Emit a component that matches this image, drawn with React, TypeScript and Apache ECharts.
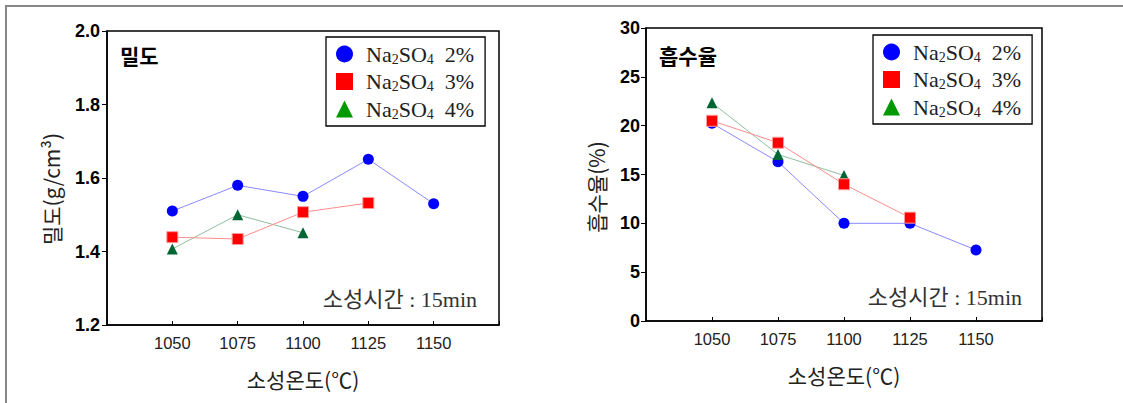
import React, { useEffect, useRef } from "react";
import * as echarts from "echarts";

const temps = [1050, 1075, 1100, 1125, 1150];
const xTicks = [1050, 1075, 1100, 1125, 1150];
const seriesNames = ["Na2SO4 2%", "Na2SO4 3%", "Na2SO4 4%"];
const pctLabels = ["2%", "3%", "4%"];

const density2 = [1.51, 1.58, 1.55, 1.651, 1.53];
const density3 = [1.439, 1.434, 1.507, 1.532];
const density4 = [1.407, 1.5, 1.451];

const absorb2 = [20.24, 16.3, 10.0, 10.0, 7.27];
const absorb3 = [20.5, 18.25, 14.0, 10.58];
const absorb4 = [22.34, 17.05, 14.9];

const SANS = "'Liberation Sans', Arial, 'Noto Sans CJK KR', sans-serif";
const KR = "'Noto Sans CJK KR', 'Liberation Sans', sans-serif";
const SERIF = "'Liberation Serif', 'DejaVu Serif', 'Noto Sans CJK KR', serif";

const symbols = ["circle", "rect", "triangle"];
const markerColors = ["#0000ff", "#ff0000", "#006633"];
const legendColors = ["#0000ff", "#ff0000", "#009900"];
const lineColors = ["#8a8aff", "#ff8c8c", "#8fbf9f"];
const zs = [2, 4, 3];

function pairs(vals: number[]) {
  return vals.map((v, i) => [temps[i], v]);
}

export default function App() {
  const ref = useRef<HTMLDivElement>(null);
  useEffect(() => {
    if (!ref.current) return;
    const chart = echarts.init(ref.current, undefined, { renderer: "svg" });

    const grids = [
      { left: 107, top: 31, width: 392, height: 294 },
      { left: 646, top: 28, width: 396, height: 293 },
    ];

    const xAxis = grids.map((_, gi) => ({
      type: "value",
      gridIndex: gi,
      min: 1025,
      max: 1175,
      interval: 25,
      axisLine: { show: true, lineStyle: { color: "#000", width: 1.5 } },
      axisTick: { show: true, inside: true, length: 4, lineStyle: { color: "#000" } },
      axisLabel: {
        formatter: (v: number) => (xTicks.includes(v) ? String(v) : ""),
        fontSize: 16.5,
        color: "#222",
        margin: 10,
        fontFamily: SANS,
      },
      splitLine: { show: false },
      name: "소성온도(℃)",
      nameLocation: "middle",
      nameGap: 43,
      nameTextStyle: { fontSize: 21, fontFamily: KR, color: "#222" },
    }));

    const yAxis = [
      {
        type: "value",
        gridIndex: 0,
        min: 1.2,
        max: 2.0,
        interval: 0.2,
        axisLine: { show: true, lineStyle: { color: "#000", width: 1.5 } },
        axisTick: { show: true, inside: false, length: 5, lineStyle: { color: "#000" } },
        axisLabel: {
          formatter: (v: number) => v.toFixed(1),
          fontSize: 18,
          fontWeight: "bold",
          color: "#000",
          margin: 7,
          fontFamily: SANS,
        },
        splitLine: { show: false },
      },
      {
        type: "value",
        gridIndex: 1,
        min: 0,
        max: 30,
        interval: 5,
        axisLine: { show: true, lineStyle: { color: "#000", width: 1.5 } },
        axisTick: { show: true, inside: false, length: 5, lineStyle: { color: "#000" } },
        axisLabel: {
          fontSize: 18,
          fontWeight: "bold",
          color: "#000",
          margin: 6,
          fontFamily: SANS,
        },
        splitLine: { show: false },
      },
    ];

    const dataSets = [
      [density2, density3, density4],
      [absorb2, absorb3, absorb4],
    ];

    const series: any[] = [];
    dataSets.forEach((sets, gi) => {
      sets.forEach((vals, si) => {
        series.push({
          type: "line",
          name: seriesNames[si],
          xAxisIndex: gi,
          yAxisIndex: gi,
          data: pairs(vals),
          symbol: symbols[si],
          symbolSize: 11,
          z: zs[si],
          lineStyle: { color: lineColors[si], width: 1 },
          itemStyle: {
            color: markerColors[si],
            borderColor: si === 1 ? "#ff9a9a" : markerColors[si],
            borderWidth: si === 1 ? 1 : 0,
          },
        });
      });
    });

    const legendBase = (left: number, top: number) => ({
      orient: "vertical",
      left,
      top,
      padding: [6, 11, 5, 10],
      itemGap: 4.5,
      itemWidth: 17,
      itemHeight: 17,
      borderColor: "#000",
      borderWidth: 1.3,
      backgroundColor: "#fff",
      selectedMode: false,
      data: seriesNames.map((n, i) => ({
        name: n,
        icon: symbols[i],
        itemStyle: { color: legendColors[i], borderWidth: 0 },
      })),
      formatter: (name: string) => {
        const i = seriesNames.indexOf(name);
        return `{a|Na}{s|2}{a|SO}{s|4}{a|  ${pctLabels[i]}}`;
      },
      textStyle: {
        padding: [0, 0, 0, 8],
        rich: {
          a: { fontSize: 22, fontFamily: SERIF, color: "#222", lineHeight: 24 },
          s: {
            fontSize: 14,
            fontFamily: SERIF,
            color: "#222",
            lineHeight: 14,
            verticalAlign: "bottom",
          },
        },
      },
    });

    const option: any = {
      animation: false,
      backgroundColor: "#fff",
      grid: grids.map((g) => ({
        ...g,
        show: true,
        borderColor: "#000",
        borderWidth: 1.5,
        backgroundColor: "transparent",
      })),
      xAxis,
      yAxis,
      legend: [legendBase(326, 37), legendBase(873, 35)],
      series,
      graphic: [
        {
          type: "line",
          shape: { x1: 5, y1: 6, x2: 1123, y2: 6 },
          style: { stroke: "#888", lineWidth: 2 },
          silent: true,
        },
        {
          type: "line",
          shape: { x1: 6, y1: 6, x2: 6, y2: 403 },
          style: { stroke: "#888", lineWidth: 2 },
          silent: true,
        },
        {
          type: "text",
          x: 51,
          y: 189,
          rotation: Math.PI / 2,
          style: {
            text: "밀도(g/cm³)",
            font: `21px ${KR}`,
            fill: "#222",
            align: "center",
            verticalAlign: "middle",
          },
        },
        {
          type: "text",
          x: 596,
          y: 187,
          rotation: Math.PI / 2,
          style: {
            text: "흡수율(%)",
            font: `21px ${KR}`,
            fill: "#222",
            align: "center",
            verticalAlign: "middle",
          },
        },
        {
          type: "text",
          left: 120,
          top: 44,
          style: { text: "밀도", font: `bold 21px ${KR}`, fill: "#000" },
        },
        {
          type: "text",
          left: 659,
          top: 44,
          style: { text: "흡수율", font: `bold 21px ${KR}`, fill: "#000" },
        },
        {
          type: "text",
          right: 1123 - 477,
          top: 288,
          style: { text: "소성시간 : 15min", font: `22px ${SERIF}`, fill: "#333" },
        },
        {
          type: "text",
          right: 1123 - 1022,
          top: 286,
          style: { text: "소성시간 : 15min", font: `22px ${SERIF}`, fill: "#333" },
        },
      ],
    };

    chart.setOption(option);
    return () => chart.dispose();
  }, []);

  return (
    <div
      ref={ref}
      style={{ position: "absolute", left: 0, top: 0, width: 1123, height: 403 }}
    />
  );
}
